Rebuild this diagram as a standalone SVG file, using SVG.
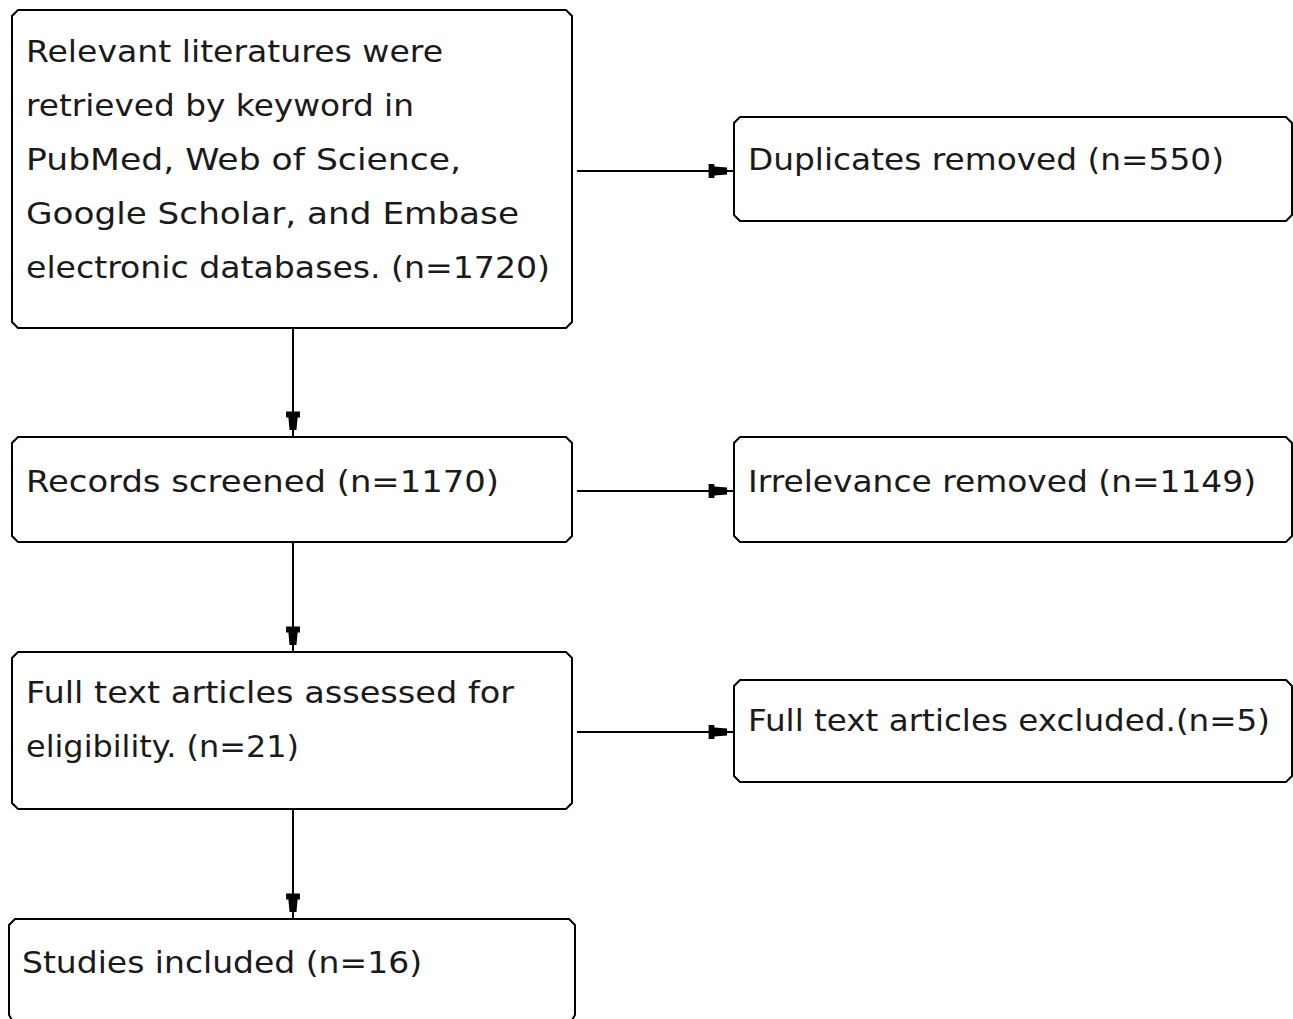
<svg xmlns="http://www.w3.org/2000/svg" width="1293" height="1019" viewBox="0 0 1293 1019">
<defs>
<style>
.box{fill:#fff;stroke:#000;stroke-width:2}
.t{font-family:"DejaVu Sans","Liberation Sans",sans-serif;font-size:30px;fill:#1a1a1a}
.c{stroke:#000;stroke-width:2;fill:none}
</style>
<marker id="ah" markerUnits="userSpaceOnUse" markerWidth="30" markerHeight="20" viewBox="-24 -8 26 16" refX="0" refY="0" orient="auto">
<path d="M-22,-6 L-17,-6 L-17,-4 L-6,-3 L-6,3 L-17,4 L-17,6 L-22,6 Z" fill="#000"/>
</marker>
</defs>
<rect width="1293" height="1019" fill="#fff"/>
<g id="connectors">
<line class="c" x1="293" y1="328" x2="293" y2="437" marker-end="url(#ah)"/>
<line class="c" x1="293" y1="542" x2="293" y2="652" marker-end="url(#ah)"/>
<line class="c" x1="293" y1="809" x2="293" y2="919" marker-end="url(#ah)"/>
<line class="c" x1="577" y1="171" x2="734" y2="171" marker-end="url(#ah)"/>
<line class="c" x1="577" y1="491" x2="734" y2="491" marker-end="url(#ah)"/>
<line class="c" x1="577" y1="732" x2="734" y2="732" marker-end="url(#ah)"/>
</g>
<g id="n1">
<polygon class="box" points="18,10 566,10 572,16 572,322 566,328 18,328 12,322 12,16"/>
<text class="t" x="26" y="62" textLength="417" lengthAdjust="spacingAndGlyphs">Relevant literatures were</text>
<text class="t" x="26" y="116" textLength="388" lengthAdjust="spacingAndGlyphs">retrieved by keyword in</text>
<text class="t" x="26" y="170" textLength="435" lengthAdjust="spacingAndGlyphs">PubMed, Web of Science,</text>
<text class="t" x="26" y="224" textLength="493" lengthAdjust="spacingAndGlyphs">Google Scholar, and Embase</text>
<text class="t" x="26" y="278" textLength="524" lengthAdjust="spacingAndGlyphs">electronic databases. (n=1720)</text>
</g>
<g id="n2">
<polygon class="box" points="740,117 1286,117 1292,123 1292,215 1286,221 740,221 734,215 734,123"/>
<text class="t" x="748" y="170" textLength="476" lengthAdjust="spacingAndGlyphs">Duplicates removed (n=550)</text>
</g>
<g id="n3">
<polygon class="box" points="18,437 566,437 572,443 572,536 566,542 18,542 12,536 12,443"/>
<text class="t" x="26" y="492" textLength="473" lengthAdjust="spacingAndGlyphs">Records screened (n=1170)</text>
</g>
<g id="n4">
<polygon class="box" points="740,437 1286,437 1292,443 1292,536 1286,542 740,542 734,536 734,443"/>
<text class="t" x="748" y="492" textLength="508" lengthAdjust="spacingAndGlyphs">Irrelevance removed (n=1149)</text>
</g>
<g id="n5">
<polygon class="box" points="18,652 566,652 572,658 572,803 566,809 18,809 12,803 12,658"/>
<text class="t" x="26" y="703" textLength="488" lengthAdjust="spacingAndGlyphs">Full text articles assessed for</text>
<text class="t" x="26" y="757" textLength="273" lengthAdjust="spacingAndGlyphs">eligibility. (n=21)</text>
</g>
<g id="n6">
<polygon class="box" points="740,680 1286,680 1292,686 1292,776 1286,782 740,782 734,776 734,686"/>
<text class="t" x="748" y="731" textLength="522" lengthAdjust="spacingAndGlyphs">Full text articles excluded.(n=5)</text>
</g>
<g id="n7">
<path class="box" d="M12,1020 L9,1015 L9,925 L15,919 L569,919 L575,925 L575,1015 L572,1020"/>
<text class="t" x="22" y="973" textLength="400" lengthAdjust="spacingAndGlyphs">Studies included (n=16)</text>
</g>
</svg>
